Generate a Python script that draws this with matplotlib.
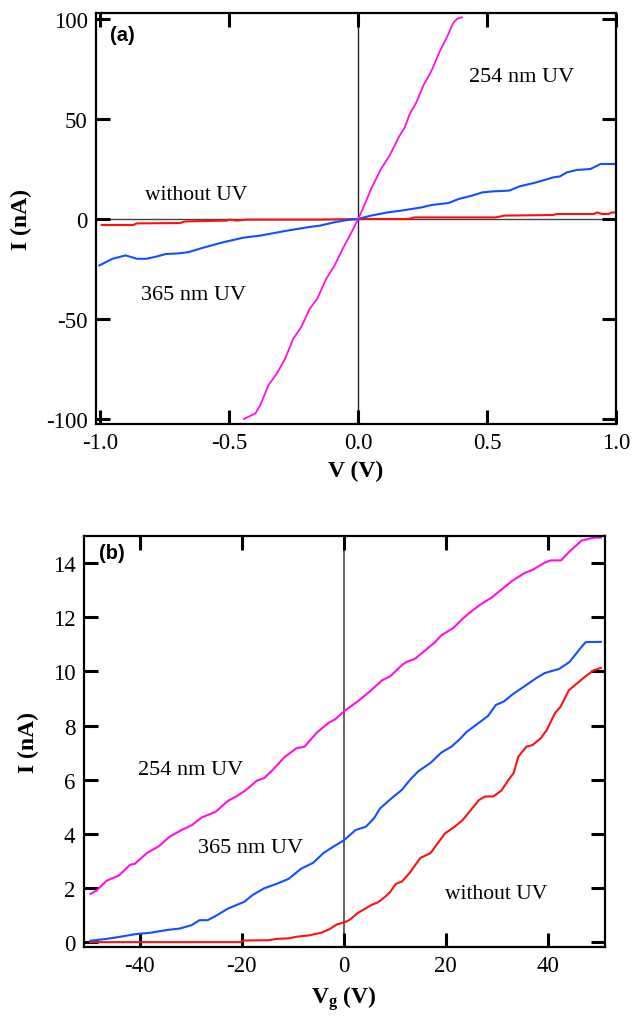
import matplotlib
matplotlib.use("Agg")
import matplotlib.pyplot as plt

plt.rcParams['font.family'] = ['Liberation Serif', 'DejaVu Serif']
plt.rcParams['mathtext.fontset'] = 'custom'
plt.rcParams['mathtext.rm'] = 'Liberation Serif'
plt.rcParams['mathtext.bf'] = 'Liberation Serif:bold'
plt.rcParams['mathtext.it'] = 'Liberation Serif:italic'

# ---------------- Panel (a): I-V curves ----------------
a_uv254_v = [-0.443, -0.398, -0.379, -0.347, -0.315, -0.283, -0.252, -0.22, -0.188, -0.159,
             -0.124, -0.092, -0.06, -0.02, 0.0, 0.024, 0.05, 0.089, 0.122, 0.161, 0.181, 0.2,
             0.226, 0.253, 0.285, 0.318, 0.344, 0.37, 0.385, 0.403]
a_uv254_i = [-100, -97.2, -93, -83, -77.3, -69.9, -60, -54, -45, -40,
             -30, -23.5, -15, -5.3, 0, 6.7, 15, 25, 31.7, 41.7, 45.8, 52.5,
             58.3, 66.7, 74.2, 84.2, 90.8, 98.3, 100.2, 100.8]

a_uv365_v = [-1.003, -0.952, -0.901, -0.857, -0.822, -0.785, -0.745, -0.697, -0.658, -0.602,
             -0.522, -0.443, -0.379, -0.283, -0.199, -0.147, -0.094, -0.042, 0.0, 0.05,
             0.115, 0.168, 0.246, 0.285, 0.351, 0.39, 0.442, 0.482, 0.521, 0.586, 0.626,
             0.691, 0.757, 0.783, 0.809, 0.848, 0.901, 0.94, 1.0]
a_uv365_i = [-23.2, -19.9, -18.2, -19.9, -19.9, -18.9, -17.5, -17.2, -16.6, -14.4,
             -11.6, -9.3, -8.3, -6.0, -4.2, -3.3, -1.7, -0.5, 0.0, 1.7,
             3.3, 4.2, 5.8, 7.0, 8.0, 10.0, 11.7, 13.3, 13.8, 14.2, 16.3,
             18.3, 20.8, 21.3, 23.3, 24.5, 25.0, 27.5, 27.5]

a_dark_v = [-0.994, -0.871, -0.858, -0.69, -0.67, -0.509, -0.496, -0.47, -0.43, -0.146, 0.0,
            0.194, 0.22, 0.534, 0.567, 0.757, 0.77, 0.914, 0.927, 0.946, 0.97, 0.986, 1.0]
a_dark_i = [-3.0, -3.0, -2.2, -2.0, -1.2, -0.8, -0.3, -0.8, -0.3, -0.3, 0.0,
            0.0, 0.8, 0.8, 1.7, 2.0, 2.5, 2.5, 3.3, 2.5, 2.5, 3.3, 3.3]

a_xticks = [-1.0, -0.5, 0.0, 0.5, 1.0]
a_xticklabels = ['-1.0', '-0.5', '0.0', '0.5', '1.0']
a_yticks = [-100, -50, 0, 50, 100]
a_yticklabels = ['-100', '-50', '0', '50', '100']

# ---------------- Panel (b): transfer curves ----------------
b_uv254_vg = [-49.7, -48.5, -46.5, -44.1, -41.9, -41, -38.6, -36.2, -34.2, -31.8, -29.8, -27.9,
              -25.1, -22.7, -21.1, -19.1, -17.1, -15.6, -14.0, -11.7, -9.3, -7.7, -5.3, -2.9,
              -1.7, 0, 2.7, 5.1, 7.5, 9.1, 11.5, 12.3, 13.9, 16.3, 17.9, 19.1, 21.5, 23.5,
              25.5, 27.1, 29, 31.4, 33, 35.4, 37, 39.4, 40.6, 42.6, 44.2, 46.6, 49, 50.4]
b_uv254_i = [1.78, 1.9, 2.27, 2.46, 2.86, 2.89, 3.29, 3.55, 3.89, 4.14, 4.32, 4.6,
             4.82, 5.22, 5.38, 5.63, 5.96, 6.06, 6.35, 6.82, 7.16, 7.22, 7.74, 8.11,
             8.23, 8.52, 8.89, 9.26, 9.67, 9.82, 10.25, 10.35, 10.46, 10.83, 11.08, 11.33, 11.61, 11.98,
             12.29, 12.51, 12.73, 13.1, 13.34, 13.63, 13.75, 14.02, 14.1, 14.1, 14.42, 14.83, 14.94, 14.94]

b_uv365_vg = [-49.7, -46.5, -44.1, -41, -37.8, -34.6, -32.2, -29.8, -28.3, -26.7, -25.1, -22.7,
              -19.5, -17.9, -15.6, -13.2, -10.8, -8.4, -6, -4, -2.1, 0, 2.3, 4.3, 5.9, 7.1,
              9.4, 11.4, 13, 14.6, 17, 19.1, 21.1, 22.7, 24.1, 25.9, 28.3, 29.8, 31.4, 33,
              35.4, 37.8, 39.4, 42.2, 44.2, 46.2, 47.4, 50.4]
b_uv365_i = [0.05, 0.12, 0.19, 0.29, 0.35, 0.45, 0.5, 0.63, 0.81, 0.81, 0.97, 1.24,
             1.49, 1.74, 1.99, 2.15, 2.34, 2.71, 2.93, 3.29, 3.52, 3.76, 4.14, 4.26, 4.57, 4.94,
             5.32, 5.63, 6.0, 6.31, 6.62, 7.0, 7.22, 7.49, 7.77, 8.02, 8.36, 8.76, 8.89, 9.14,
             9.45, 9.76, 9.94, 10.09, 10.34, 10.81, 11.08, 11.09]

b_dark_vg = [-49.7, -20.3, -19.5, -14.8, -13.2, -10.8, -9.2, -6.8, -4.4, -2.9, -1.3, 0, 1.1,
             2.7, 4.3, 5.5, 6.7, 8.3, 9.1, 10.2, 11.4, 13, 15, 17, 18.6, 19.8, 21.7, 23.3,
             24.9, 26.5, 27.7, 29.3, 30.9, 32.1, 33.3, 34.2, 35.8, 37, 38.6, 39.8, 41.4,
             42.5, 44.1, 45.8, 47.4, 49, 50.4]
b_dark_i = [0.0, 0.0, 0.06, 0.07, 0.12, 0.14, 0.2, 0.25, 0.35, 0.47, 0.66, 0.72, 0.82,
            1.07, 1.25, 1.38, 1.47, 1.71, 1.86, 2.15, 2.24, 2.58, 3.11, 3.29, 3.7, 4.01, 4.26, 4.51,
            4.88, 5.25, 5.38, 5.38, 5.6, 5.94, 6.25, 6.85, 7.22, 7.28, 7.53, 7.84, 8.46,
            8.7, 9.3, 9.57, 9.82, 10.04, 10.13]

b_xticks = [-40, -20, 0, 20, 40]
b_xticklabels = ['-40', '-20', '0', '20', '40']
b_yticks = [0, 2, 4, 6, 8, 10, 12, 14]
b_yticklabels = ['0', '2', '4', '6', '8', '10', '12', '14']

C_254 = '#ff10e0'
C_365 = '#1050ff'
C_DARK = '#ff1010'

fig = plt.figure(figsize=(6.38, 10.2), dpi=100)
ax1 = fig.add_axes([96/638, 1-425/1020, 520/638, 411/1020])
ax2 = fig.add_axes([83.7/638, 1-948/1020, 521.3/638, 411/1020])


def style(ax):
    for s in ax.spines.values():
        s.set_linewidth(1.6)
    ax.tick_params(direction='in', length=10, width=2.2, top=True, right=True,
                   labelsize=16.5, pad=6, colors='black')


# panel a
ax1.axhline(0, color='#444444', lw=1.0, zorder=1)
ax1.axvline(0, color='#222222', lw=1.0, zorder=1)
ax1.plot(a_dark_v, a_dark_i, color=C_DARK, lw=1.5)
ax1.plot(a_uv365_v, a_uv365_i, color=C_365, lw=1.5)
ax1.plot(a_uv254_v, a_uv254_i, color=C_254, lw=1.3)
ax1.set_xlim(-1.016, 1.0)
ax1.set_ylim(-102.5, 103)
ax1.set_xticks(a_xticks)
ax1.set_xticklabels(a_xticklabels)
ax1.set_yticks(a_yticks)
ax1.set_yticklabels(a_yticklabels)
style(ax1)
ax1.set_xlabel('V (V)', fontsize=17, fontweight='bold', labelpad=5)
ax1.set_ylabel('I (nA)', fontsize=17, fontweight='bold', labelpad=10)
ax1.text(-0.961, 92.5, '(a)', fontsize=14.5, fontweight='bold', family=['Liberation Sans', 'DejaVu Sans'],
         ha='left', va='center')
ax1.text(-0.626, 12.5, 'without UV', fontsize=15.5, ha='center', va='center')
ax1.text(0.634, 71.5, '254 nm UV', fontsize=16, ha='center', va='center')
ax1.text(-0.638, -37.6, '365 nm UV', fontsize=16, ha='center', va='center')

# panel b
ax2.axvline(0, color='#555555', lw=1.3, zorder=1)
ax2.plot(b_dark_vg, b_dark_i, color=C_DARK, lw=1.5)
ax2.plot(b_uv365_vg, b_uv365_i, color=C_365, lw=1.5)
ax2.plot(b_uv254_vg, b_uv254_i, color=C_254, lw=1.5)
ax2.set_xlim(-51, 51.2)
ax2.set_ylim(-0.18, 15)
ax2.set_xticks(b_xticks)
ax2.set_xticklabels(b_xticklabels)
ax2.set_yticks(b_yticks)
ax2.set_yticklabels(b_yticklabels)
style(ax2)
ax2.set_xlabel(r'V$_{\mathbf{g}}$ (V)', fontsize=17, fontweight='bold', labelpad=5)
ax2.set_ylabel('I (nA)', fontsize=17, fontweight='bold', labelpad=10)
ax2.text(-48, 14.4, '(b)', fontsize=14.5, fontweight='bold', family=['Liberation Sans', 'DejaVu Sans'],
         ha='left', va='center')
ax2.text(-30, 6.37, '254 nm UV', fontsize=16, ha='center', va='center')
ax2.text(-18.3, 3.48, '365 nm UV', fontsize=16, ha='center', va='center')
ax2.text(29.8, 1.78, 'without UV', fontsize=15.5, ha='center', va='center')

fig.savefig('out.png', dpi=100)
